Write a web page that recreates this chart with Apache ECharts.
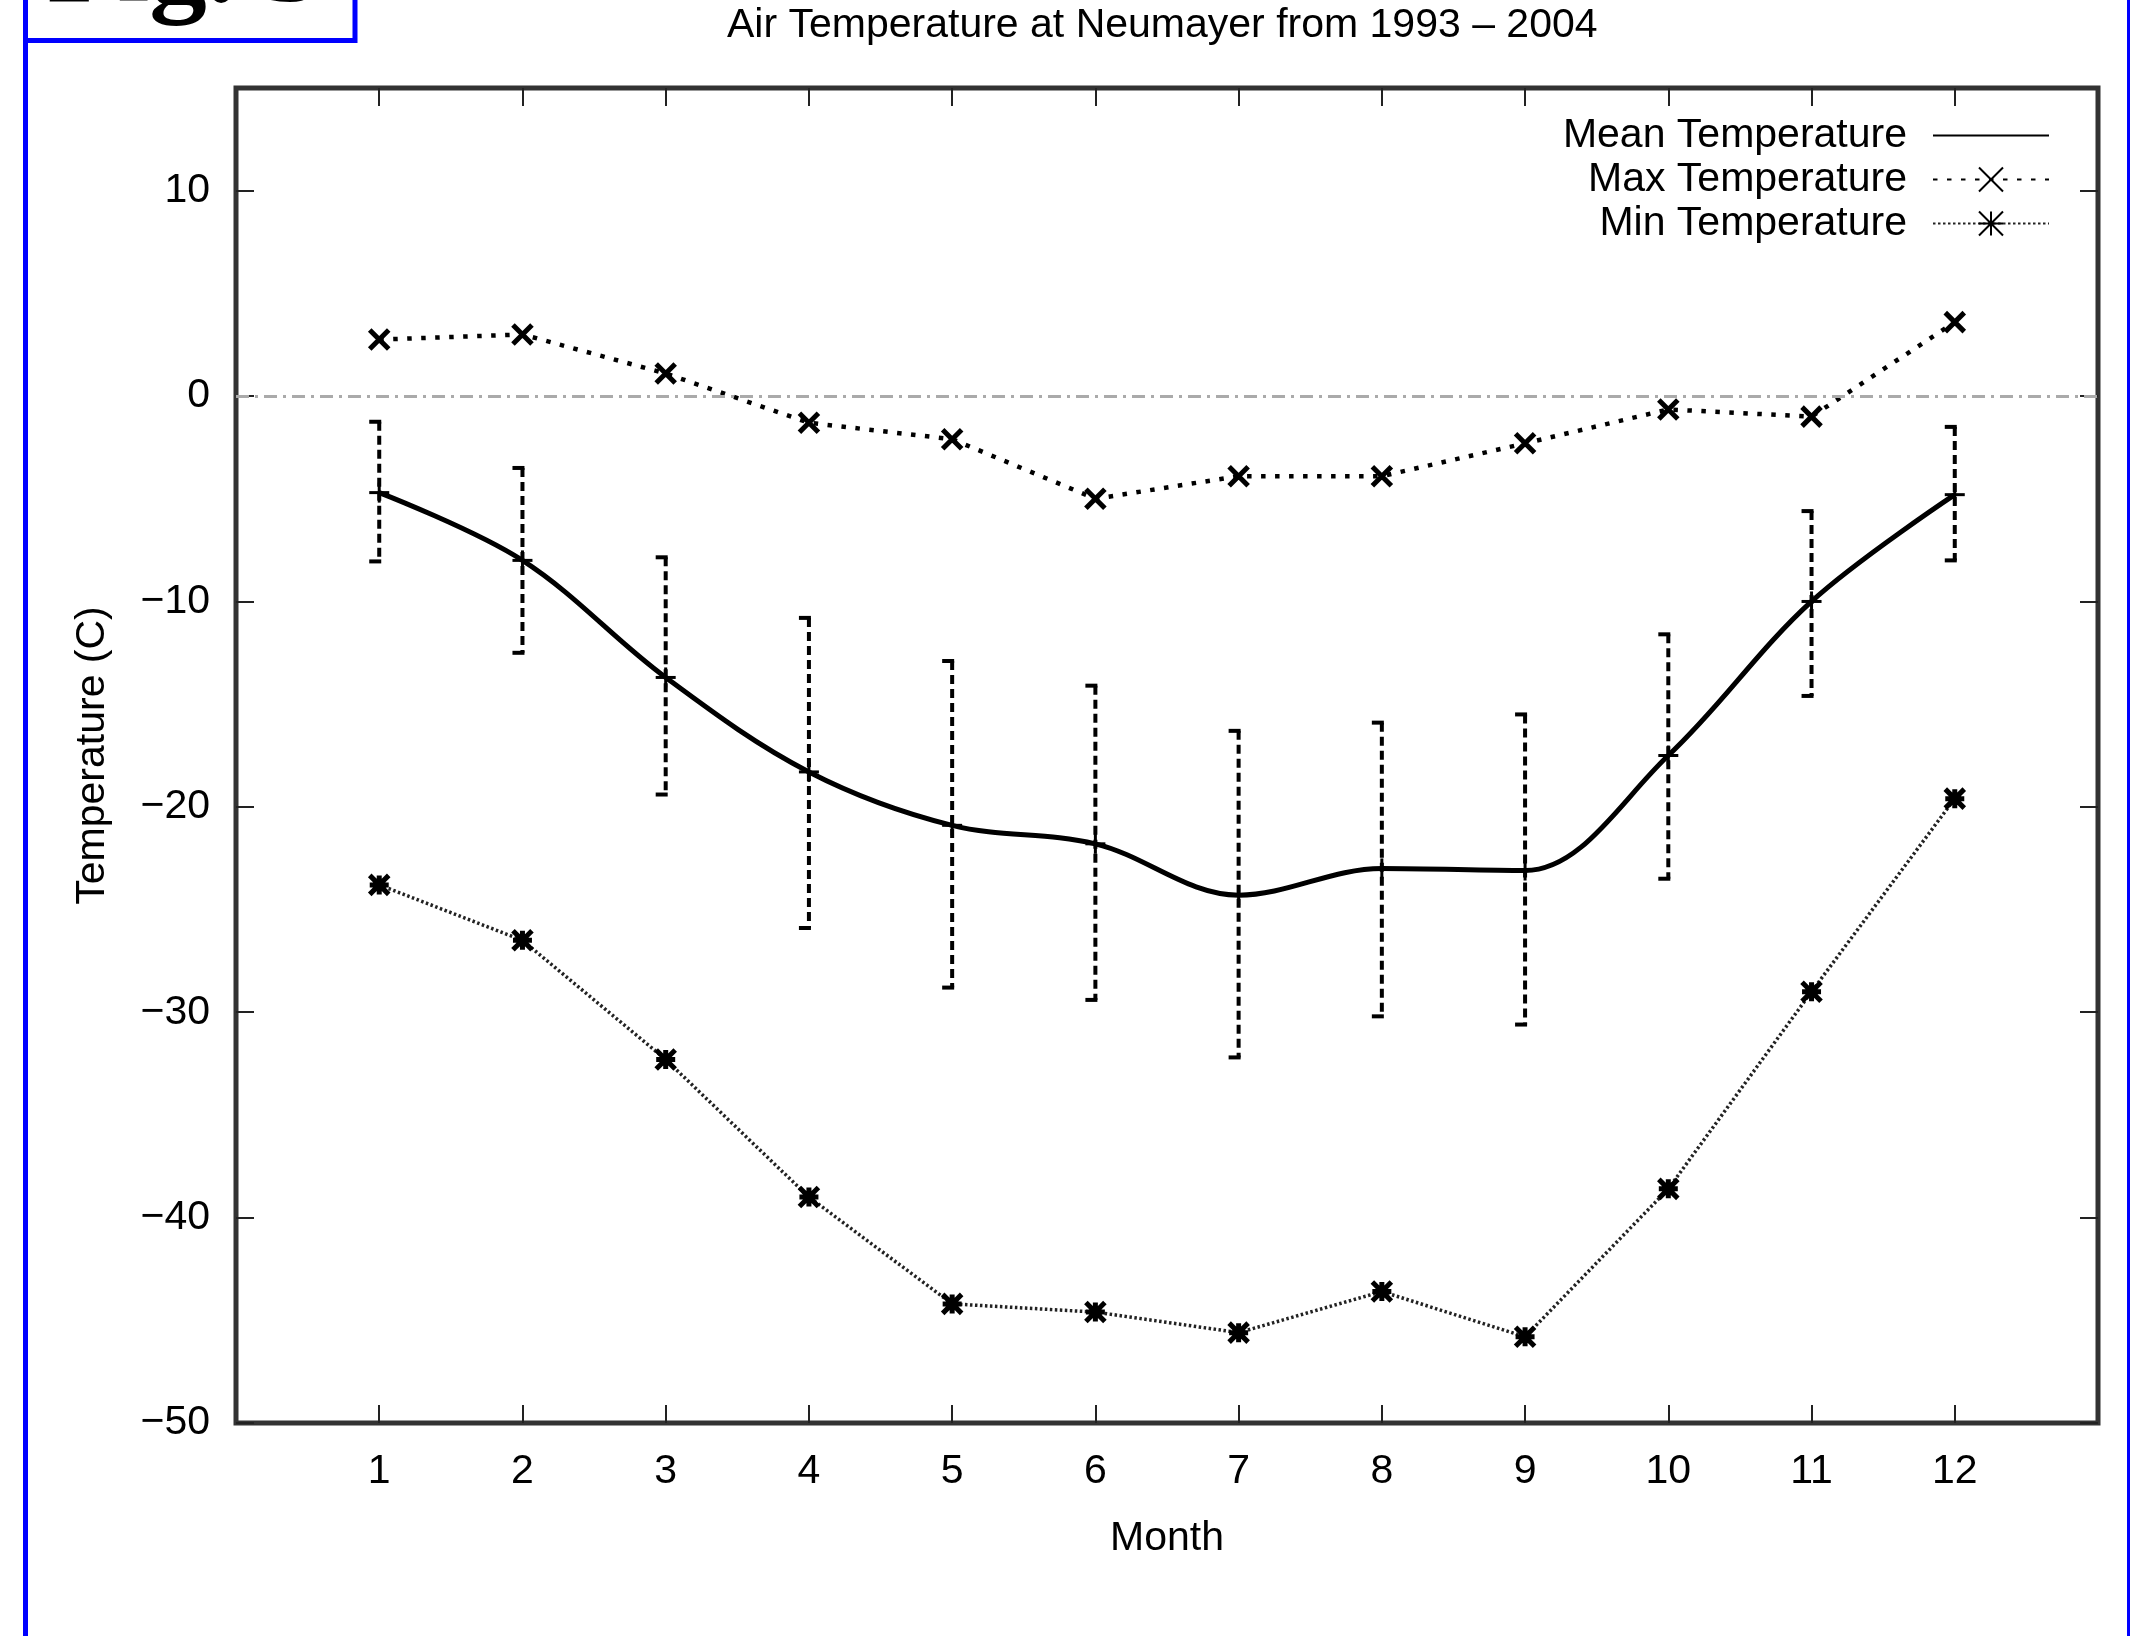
<!DOCTYPE html>
<html>
<head>
<meta charset="utf-8">
<title>Air Temperature at Neumayer</title>
<script src="https://cdn.jsdelivr.net/npm/echarts@6.0.0/dist/echarts.min.js"></script>
<style>
    html, body { margin: 0; padding: 0; background: #fff; }
    #chart { width: 2130px; height: 1636px; }
</style>
</head>
<body>
<div id="chart"></div>
<script>
// monthly air temperature at Neumayer, 1993 - 2004
var months = [1, 2, 3, 4, 5, 6, 7, 8, 9, 10, 11, 12];
var meanTemp = [-4.7, -8.0, -13.7, -18.3, -20.9, -21.8, -24.3, -23.0, -23.1, -17.5, -10.0, -4.8];
var errHigh = [-1.25, -3.5, -7.85, -10.8, -12.9, -14.1, -16.3, -15.9, -15.5, -11.6, -5.6, -1.5];
var errLow = [-8.05, -12.5, -19.4, -25.9, -28.8, -29.4, -32.2, -30.2, -30.6, -23.5, -14.6, -8.0];
var maxTemp = [2.75, 3.0, 1.1, -1.3, -2.1, -5.0, -3.9, -3.9, -2.3, -0.65, -1.0, 3.6];
var minTemp = [-23.8, -26.5, -32.3, -39.0, -44.2, -44.6, -45.6, -43.6, -45.8, -38.6, -29.0, -19.6];

var yTicks = [-50, -40, -30, -20, -10, 0, 10];
var xMin = 0, xMax = 13;
var yMin = -50, yMax = 15, yStep = 10;

var FONT = '"Liberation Sans", Arial, sans-serif';

var errData = months.map(function (m, i) {
    return [m, meanTemp[i], errLow[i], errHigh[i]];
});

function renderErrorBar(params, api) {
    var x = api.value(0);
    var mid = api.coord([x, api.value(1)]);
    var lo = api.coord([x, api.value(2)]);
    var hi = api.coord([x, api.value(3)]);
    var dashed = { stroke: '#000', lineWidth: 4, lineDash: [9, 5] };
    var solid = { stroke: '#000', lineWidth: 4 };
    var thin = { stroke: '#000', lineWidth: 3 };
    return {
        type: 'group',
        children: [
            { type: 'line', shape: { x1: hi[0], y1: hi[1], x2: lo[0], y2: lo[1] }, style: dashed },
            { type: 'line', shape: { x1: hi[0] - 10, y1: hi[1], x2: hi[0] + 2, y2: hi[1] }, style: solid },
            { type: 'line', shape: { x1: lo[0] - 10, y1: lo[1], x2: lo[0] + 2, y2: lo[1] }, style: solid },
            { type: 'line', shape: { x1: mid[0] - 10, y1: mid[1], x2: mid[0] + 10, y2: mid[1] }, style: thin },
            { type: 'line', shape: { x1: mid[0], y1: mid[1] - 10, x2: mid[0], y2: mid[1] + 10 }, style: thin }
        ]
    };
}

var tickStyle = { inside: true, length: 18, lineStyle: { color: '#222', width: 2 } };
var noLine = { show: false, onZero: false };

var chart = echarts.init(document.getElementById('chart'));
var option = {
    animation: false,
    backgroundColor: '#fff',
    textStyle: { fontFamily: FONT, color: '#000' },
    title: {
        text: 'Air Temperature at Neumayer from 1993 \u2013 2004',
        left: 722,
        top: 0,
        textStyle: { fontFamily: FONT, fontSize: 41, fontWeight: 'normal', color: '#000' }
    },
    legend: {
        orient: 'vertical',
        right: 75,
        top: 110,
        align: 'right',
        itemWidth: 116,
        itemHeight: 30,
        itemGap: 3,
        data: [
            { name: 'Mean Temperature', itemStyle: { color: 'rgba(0,0,0,0)', borderColor: 'rgba(0,0,0,0)', borderWidth: 0 } },
            'Max Temperature',
            'Min Temperature'
        ],
        textStyle: { fontFamily: FONT, fontSize: 41, color: '#000', padding: [0, 21, 0, 0] }
    },
    grid: {
        left: 236,
        right: 32,
        top: 88,
        bottom: 213,
        show: true,
        borderColor: '#333',
        borderWidth: 5,
        backgroundColor: '#fff',
        outerBoundsMode: 'none'
    },
    xAxis: [
        {
            type: 'value',
            min: xMin,
            max: xMax,
            interval: 1,
            name: 'Month',
            nameLocation: 'middle',
            nameGap: 95,
            nameTextStyle: { fontFamily: FONT, fontSize: 41, color: '#000' },
            axisLine: noLine,
            axisTick: Object.assign({ customValues: months }, tickStyle),
            splitLine: { show: false },
            axisLabel: {
                margin: 28,
                fontFamily: FONT,
                fontSize: 41,
                color: '#000',
                customValues: months
            }
        },
        {
            type: 'value',
            position: 'top',
            min: xMin,
            max: xMax,
            interval: 1,
            axisLine: noLine,
            axisTick: Object.assign({ customValues: months }, tickStyle),
            splitLine: { show: false },
            axisLabel: { show: false }
        }
    ],
    yAxis: [
        {
            type: 'value',
            min: yMin,
            max: yMax,
            interval: yStep,
            name: 'Temperature (C)',
            nameLocation: 'middle',
            nameGap: 123,
            nameTextStyle: { fontFamily: FONT, fontSize: 41, color: '#000' },
            axisLine: noLine,
            axisTick: Object.assign({ customValues: yTicks }, tickStyle),
            splitLine: { show: false },
            axisLabel: {
                margin: 26,
                fontFamily: FONT,
                fontSize: 41,
                color: '#000',
                customValues: yTicks,
                formatter: function (v) { return String(v).replace('-', '\u2212'); }
            }
        },
        {
            type: 'value',
            position: 'right',
            min: yMin,
            max: yMax,
            interval: yStep,
            axisLine: noLine,
            axisTick: Object.assign({ customValues: yTicks }, tickStyle),
            splitLine: { show: false },
            axisLabel: { show: false }
        }
    ],
    series: [
        {
            name: 'Error',
            type: 'custom',
            renderItem: renderErrorBar,
            encode: { x: 0, y: [1, 2, 3] },
            data: errData,
            z: 3
        },
        {
            name: 'Mean Temperature',
            type: 'line',
            smooth: 0.35,
            symbol: 'none',
            data: months.map(function (m, i) { return [m, meanTemp[i]]; }),
            lineStyle: { color: '#000', width: 5, type: 'solid' },
            itemStyle: { color: '#000' },
            z: 4
        },
        {
            name: 'Max Temperature',
            type: 'line',
            symbol: 'path://M0,0L20,20M20,0L0,20',
            symbolSize: 19,
            data: months.map(function (m, i) { return [m, maxTemp[i]]; }),
            lineStyle: { color: '#000', width: 4.5, type: [4.5, 9.5] },
            itemStyle: { color: '#000', borderColor: '#000', borderWidth: 5 },
            markLine: {
                silent: true,
                symbol: 'none',
                label: { show: false },
                lineStyle: { color: '#aaa', width: 3, type: [13, 6, 3, 6] },
                data: [{ yAxis: 0 }]
            },
            z: 4
        },
        {
            name: 'Min Temperature',
            type: 'line',
            symbol: 'path://M0,0L20,20M20,0L0,20M10,0L10,20M0,10L20,10',
            symbolSize: 19,
            data: months.map(function (m, i) { return [m, minTemp[i]]; }),
            lineStyle: { color: '#222', width: 3.5, type: [2.5, 2.5] },
            itemStyle: { color: '#000', borderColor: '#000', borderWidth: 5 },
            z: 4
        }
    ],
    graphic: [
        { type: 'rect', shape: { x: 23, y: 0, width: 5, height: 1636 }, style: { fill: '#0000ff' } },
        { type: 'rect', shape: { x: 2127, y: 0, width: 3, height: 1636 }, style: { fill: '#0000ff' } },
        { type: 'rect', shape: { x: 25.5, y: -20, width: 329.5, height: 60.5 }, style: { fill: '#fff', stroke: '#0000ff', lineWidth: 5 } },
        {
            type: 'text',
            x: 47,
            y: -29,
            style: {
                text: 'Fig. 3',
                font: 'bold 115px "Liberation Serif", "Times New Roman", serif',
                fill: '#000',
                verticalAlign: 'middle',
                lineHeight: 115
            }
        }
    ]
};
chart.setOption(option);

window.addEventListener('resize', function () {
    chart.resize();
});
</script>
</body>
</html>
